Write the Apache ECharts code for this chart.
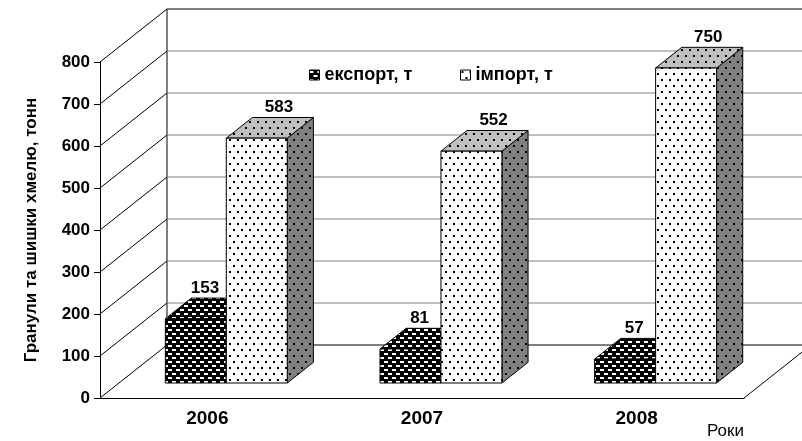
<!DOCTYPE html>
<html>
<head>
<meta charset="utf-8">
<title>Гранули та шишки хмелю</title>
<script src="https://cdn.jsdelivr.net/npm/echarts@6/dist/echarts.min.js"></script>
<style>
	html, body { margin: 0; padding: 0; background: #fff; }
	#chart { width: 802px; height: 441px; }
</style>
</head>
<body>
<div id="chart"></div>
<script>
var years = ['2006', '2007', '2008'];
var exportData = [153, 81, 57];
var importData = [583, 552, 750];
var yTicks = [0, 100, 200, 300, 400, 500, 600, 700, 800];
var seriesNames = ['експорт, т', 'імпорт, т'];

var FONT = "'Liberation Sans', Arial, sans-serif";
// oblique depth of the 3d box
var DX = 67, DY = -53;
var F1 = 0.283, DEPTH = 0.39, BAR = 0.284;

//canvas patterns
function makePattern(w, h, bg, draw) {
	var c = document.createElement('canvas');
	c.width = w;
	c.height = h;
	var ctx = c.getContext('2d');
	ctx.fillStyle = bg;
	ctx.fillRect(0, 0, w, h);
	draw(ctx);
	return { image: c, repeat: 'repeat' };
}
function dots(ctx) {
	ctx.fillStyle = '#000';
	ctx.fillRect(1, 1, 2, 2);
	ctx.fillRect(5, 7, 2, 2);
}
var dashPattern = makePattern(8, 8, '#000', function (ctx) {
	ctx.fillStyle = '#fff';
	ctx.fillRect(0, 1, 4, 2);
	ctx.fillRect(4, 5, 4, 2);
});
var dotWhite = makePattern(8, 12, '#fff', dots);
var dotLight = makePattern(8, 12, '#c0c0c0', dots);
var dotDark = makePattern(8, 12, '#808080', dots);

var faces = [
	{ front: dashPattern, top: dashPattern, side: dashPattern, shift: 0, labelDx: -17 },
	{ front: dotWhite, top: dotLight, side: dotDark, shift: 1, labelDx: -4 }
];

function boxRenderer(k) {
	return function (params, api) {
		var f = faces[k];
		var c = api.coord([api.value(0), api.value(1)]);
		var base = api.coord([api.value(0), 0]);
		var bw = api.size([1, 0])[0] * BAR;
		var xl = c[0] - bw + f.shift * bw + F1 * DX;
		var xr = xl + bw;
		var yt = c[1] + F1 * DY;
		var yb = base[1] + F1 * DY;
		var ddx = DEPTH * DX, ddy = DEPTH * DY;
		var line = { stroke: '#000', lineWidth: 1 };
		return {
			type: 'group',
			children: [
				{ type: 'polygon', shape: { points: [[xr, yt], [xr + ddx, yt + ddy], [xr + ddx, yb + ddy], [xr, yb]] },
					style: Object.assign({ fill: f.side }, line) },
				{ type: 'polygon', shape: { points: [[xl, yt], [xr, yt], [xr + ddx, yt + ddy], [xl + ddx, yt + ddy]] },
					style: Object.assign({ fill: f.top }, line) },
				{ type: 'rect', shape: { x: xl, y: yt, width: bw, height: yb - yt },
					style: Object.assign({ fill: f.front }, line) },
				{ type: 'text', x: (xl + xr) / 2 + ddx + f.labelDx, y: yt + ddy - 10,
					style: { text: String(api.value(1)), fill: '#000', font: 'bold 17px ' + FONT,
						align: 'center', verticalAlign: 'middle' } }
			]
		};
	};
}

//back wall, floor and diagonals
function wallRenderer(params, api) {
	var cs = params.coordSys;
	var v = api.value(1);
	var y = api.coord([0, v])[1];
	var x0 = cs.x, x1 = cs.x + cs.width;
	var edge = v === yTicks[yTicks.length - 1] || v === 0;
	var children = [
		{ type: 'line', shape: { x1: x0, y1: y, x2: x0 + DX, y2: y + DY }, style: { stroke: '#000', lineWidth: 1 } },
		{ type: 'line', shape: { x1: x0 + DX, y1: y + DY, x2: x1 + DX, y2: y + DY },
			style: { stroke: edge ? '#000' : '#808080', lineWidth: 1 } }
	];
	if (v === 0) {
		var yTop = api.coord([0, yTicks[yTicks.length - 1]])[1];
		children.push({ type: 'line', shape: { x1: x0 + DX, y1: y + DY, x2: x0 + DX, y2: yTop + DY }, style: { stroke: '#000', lineWidth: 1 } });
		children.push({ type: 'line', shape: { x1: x1, y1: y, x2: x1 + DX, y2: y + DY }, style: { stroke: '#000', lineWidth: 1 } });
	}
	return { type: 'group', children: children };
}

var chart = echarts.init(document.getElementById('chart'), null, { renderer: 'canvas' });
var option = {
	animation: false,
	backgroundColor: '#fff',
	title: {
		text: 'Роки',
		left: 707,
		top: 423,
		padding: 0,
		textStyle: { fontFamily: FONT, fontWeight: 'normal', fontSize: 17, color: '#000' }
	},
	legend: [
		{
			left: 309, top: 66, padding: 0,
			icon: 'rect', itemWidth: 10, itemHeight: 10,
			selectedMode: false,
			textStyle: { fontFamily: FONT, fontWeight: 'bold', fontSize: 18, color: '#000' },
			data: [{ name: seriesNames[0], itemStyle: { color: dashPattern, borderColor: '#000', borderWidth: 1 } }]
		},
		{
			left: 460, top: 66, padding: 0,
			icon: 'rect', itemWidth: 10, itemHeight: 10,
			selectedMode: false,
			textStyle: { fontFamily: FONT, fontWeight: 'bold', fontSize: 18, color: '#000' },
			data: [{ name: seriesNames[1], itemStyle: { color: dotWhite, borderColor: '#000', borderWidth: 1 } }]
		}
	],
	grid: { left: 100, right: 58, top: 62, bottom: 43 },
	xAxis: {
		type: 'category',
		data: years,
		axisLine: { lineStyle: { color: '#000', width: 1 } },
		axisTick: { length: 6, lineStyle: { color: '#000' } },
		axisLabel: { color: '#000', fontFamily: FONT, fontWeight: 'bold', fontSize: 19, margin: 11 },
		splitLine: { show: false }
	},
	yAxis: {
		type: 'value',
		min: 0,
		max: 800,
		interval: 100,
		name: 'Гранули та шишки хмелю, тонн',
		nameLocation: 'middle',
		nameRotate: 90,
		nameGap: 60,
		nameTextStyle: { color: '#000', fontFamily: FONT, fontWeight: 'bold', fontSize: 17 },
		axisLine: { show: true, lineStyle: { color: '#000', width: 1 } },
		axisTick: { show: true, length: 6, lineStyle: { color: '#000' } },
		axisLabel: { color: '#000', fontFamily: FONT, fontWeight: 'bold', fontSize: 17, margin: 10 },
		splitLine: { show: false }
	},
	series: [
		{
			name: 'wall',
			type: 'custom',
			z: 1,
			silent: true,
			renderItem: wallRenderer,
			encode: { x: 0, y: 1 },
			data: yTicks.map(function (v) { return [0, v]; })
		},
		{
			name: seriesNames[0],
			type: 'custom',
			z: 2,
			itemStyle: { color: dashPattern },
			renderItem: boxRenderer(0),
			encode: { x: 0, y: 1 },
			data: exportData.map(function (v, i) { return [i, v]; })
		},
		{
			name: seriesNames[1],
			type: 'custom',
			z: 3,
			itemStyle: { color: dotWhite },
			renderItem: boxRenderer(1),
			encode: { x: 0, y: 1 },
			data: importData.map(function (v, i) { return [i, v]; })
		}
	]
};
chart.setOption(option);
window.addEventListener('resize', chart.resize);
</script>
</body>
</html>
